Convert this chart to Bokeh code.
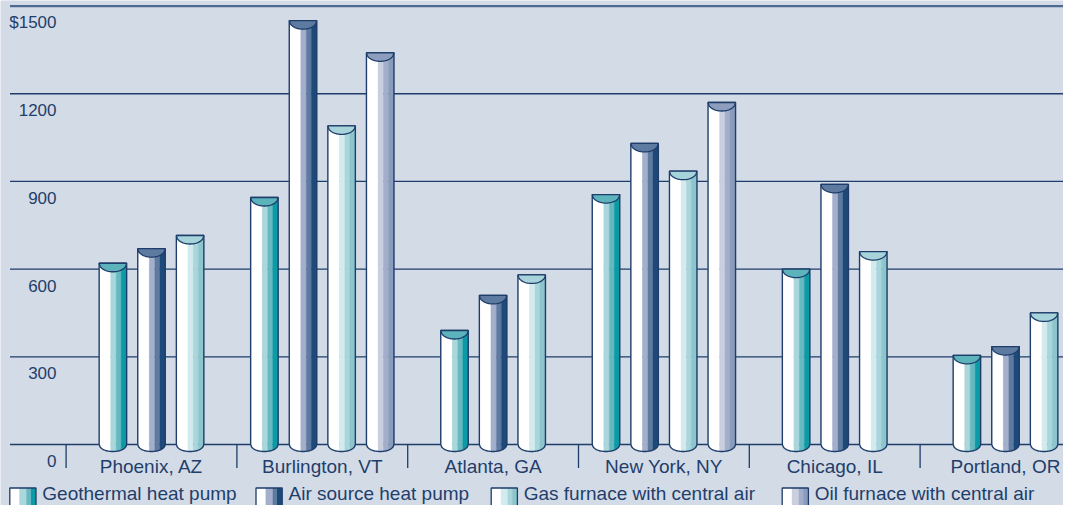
import numpy as np
from bokeh.plotting import figure
from bokeh.models import Range1d
from bokeh.core.properties import value
from bokeh.embed import file_html
from bokeh.resources import INLINE

# ---------------- data ----------------
cities = ["Phoenix, AZ", "Burlington, VT", "Atlanta, GA", "New York, NY", "Chicago, IL", "Portland, OR"]
geothermal = [620, 845, 390, 855, 600, 305]
air_source = [670, 1450, 510, 1030, 890, 335]
gas_furnace = [715, 1090, 580, 935, 660, 450]
oil_furnace = [None, 1340, None, 1170, None, None]
series_names = ["Geothermal heat pump", "Air source heat pump",
                "Gas furnace with central air", "Oil furnace with central air"]
y_ticks = [0, 300, 600, 900, 1200, 1500]
y_tick_labels = ["0", "300", "600", "900", "1200", "$1500"]

# ---------------- styles ----------------
BG = "#D3DBE7"
NAVY = "#1E3D6A"
TEXT = "#1F3E6B"
FONT = "Liberation Sans"
STRIPES = [0.0, 0.42, 0.62, 0.80, 1.0]
SERIES_COLORS = [
    ["#FFFFFF", "#A9D7DC", "#67B9C1", "#0A9BA4"],
    ["#FFFFFF", "#A3AFCB", "#5E7AA0", "#1E4A79"],
    ["#FFFFFF", "#D3EBEE", "#A8D6DB", "#8CC6CC"],
    ["#FFFFFF", "#C9CFDF", "#A2AECA", "#8A9CBC"],
]
CAP_COLORS = ["#5DB3BC", "#5D7AA0", "#A6D4DA", "#8C9DBE"]

W, H = 1063, 505
XS = 170.8          # px per category unit
YS = 0.2923         # px per dollar
X0 = 151.0          # px of first group centre
Y0 = 444.0          # px (from top) of zero line
TXT_SHIFT = 7.0     # renderer draws text lower than baseline maths suggests


def xu(px):
    return (px - X0) / XS


def yu(py):
    return (Y0 - py) / YS


p = figure(width=W, height=H, output_backend="svg", toolbar_location=None,
           x_range=Range1d(xu(0), xu(W)), y_range=Range1d(yu(H), yu(0)),
           x_axis_type=None, y_axis_type=None, min_border=0)
p.background_fill_color = BG
p.border_fill_color = BG
p.outline_line_color = None

# ---------------- grid lines & labels ----------------
x_left = xu(9.5)
x_right = xu(1200)
main = [t for t in y_ticks if t != max(y_ticks)]
p.segment(x0=[x_left] * len(main), x1=[x_right] * len(main), y0=main, y1=main,
          line_color=NAVY, line_width=1.3)
p.segment(x0=[x_left], x1=[x_right], y0=[max(y_ticks)], y1=[max(y_ticks)],
          line_color="#4F6890", line_width=2.2)

p.text(x=[xu(56)] * len(y_ticks), y=[t - (23.4 - TXT_SHIFT) / YS for t in y_ticks],
       text=y_tick_labels,
       text_font=value(FONT), text_font_size="17px", text_color=TEXT,
       text_align="right", text_baseline="alphabetic")

# separators
n_groups = len(cities)
sep_x = [i - 0.5 for i in range(n_groups)]
p.segment(x0=sep_x, x1=sep_x, y0=[0] * n_groups, y1=[-23.5 / YS] * n_groups,
          line_color=NAVY, line_width=1.3)

# category labels
p.text(x=list(range(n_groups)), y=[-(29.0 - TXT_SHIFT) / YS] * n_groups, text=cities,
       text_font=value(FONT), text_font_size="19px", text_color=TEXT,
       text_align="center", text_baseline="alphabetic")

# ---------------- cylinders ----------------
BAR_W = 27.5 / XS
BAR_STEP = 38.6 / XS
DB = 7.0 / YS     # bottom cap depth
DT = 8.5 / YS     # top cap depth
NPT = 30

all_series = [geothermal, air_source, gas_furnace, oil_furnace]

strip_xs, strip_ys, strip_cols = [], [], []
cap_xs, cap_ys, cap_cols = [], [], []
out_xs, out_ys = [], []


def curve(xc, hw, xa, xb, base, depth):
    xx = np.linspace(xa, xb, NPT)
    yy = base - depth * np.sqrt(np.clip(1 - ((xx - xc) / hw) ** 2, 0, 1))
    return xx, yy


for g in range(n_groups):
    present = [s for s in range(len(all_series)) if all_series[s][g] is not None]
    n = len(present)
    for k, s in enumerate(present):
        v = all_series[s][g]
        xc = g + (k - (n - 1) / 2) * BAR_STEP
        hw = BAR_W / 2
        xl, xr = xc - hw, xc + hw
        for j in range(4):
            xa = xl + STRIPES[j] * BAR_W
            xb = xl + STRIPES[j + 1] * BAR_W
            cx, cy = curve(xc, hw, xb, xa, 0, DB)
            strip_xs.append([xa, xb] + list(cx))
            strip_ys.append([v, v] + list(cy))
            strip_cols.append(SERIES_COLORS[s][j])
        # outline
        cx, cy = curve(xc, hw, xr, xl, 0, DB)
        out_xs.append([xl, xr] + list(cx) + [xl])
        out_ys.append([v, v] + list(cy) + [v])
        # top cap
        tx, ty = curve(xc, hw, xr, xl, v, DT)
        cap_xs.append([xl, xr] + list(tx))
        cap_ys.append([v, v] + list(ty))
        cap_cols.append(CAP_COLORS[s])

p.patches(xs=strip_xs, ys=strip_ys, fill_color=strip_cols, line_color=strip_cols, line_width=0.3)
p.patches(xs=out_xs, ys=out_ys, fill_alpha=0, line_color=NAVY, line_width=1.4)
p.patches(xs=cap_xs, ys=cap_ys, fill_color=cap_cols, line_color=NAVY, line_width=1.3)

# ---------------- legend ----------------
LEGEND_BOX_X = [9.3, 255.5, 490.7, 781.7]
BOX_W = 26.2
BOX_TOP = 487.5
TEXT_BASE = 500.0
LEG_STRIPES = [0.0, 0.37, 0.63, 0.80, 1.0]
lq_l, lq_r, lq_c = [], [], []
for s in range(len(series_names)):
    bx = LEGEND_BOX_X[s]
    for j in range(4):
        lq_l.append(xu(bx + LEG_STRIPES[j] * BOX_W))
        lq_r.append(xu(bx + LEG_STRIPES[j + 1] * BOX_W))
        lq_c.append(SERIES_COLORS[s][j])
p.quad(left=lq_l, right=lq_r, top=[yu(BOX_TOP)] * len(lq_l), bottom=[yu(H + 10)] * len(lq_l),
       fill_color=lq_c, line_color=None)
p.quad(left=[xu(b) for b in LEGEND_BOX_X], right=[xu(b + BOX_W) for b in LEGEND_BOX_X],
       top=[yu(BOX_TOP)] * 4, bottom=[yu(H + 10)] * 4, fill_alpha=0, line_color=NAVY, line_width=1.3)
p.text(x=[xu(b + 32.5) for b in LEGEND_BOX_X], y=[yu(TEXT_BASE - TXT_SHIFT)] * 4, text=series_names,
       text_font=value(FONT), text_font_size="19px", text_color=TEXT,
       text_align="left", text_baseline="alphabetic")

open("out.html", "w").write(file_html(p, INLINE))
